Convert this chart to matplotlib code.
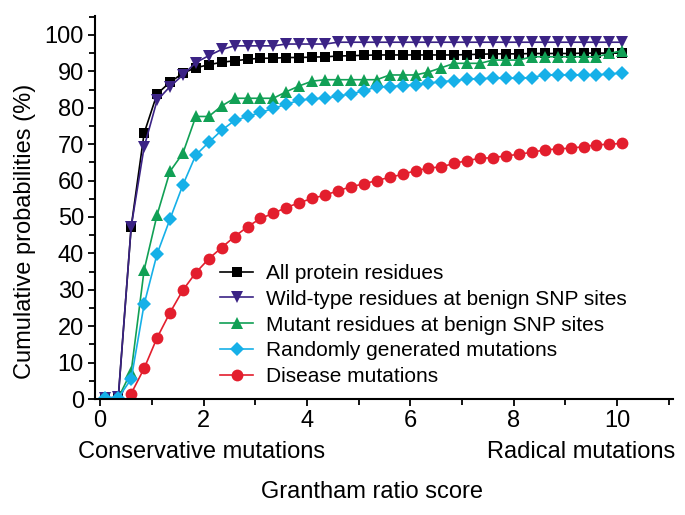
import numpy as np
import matplotlib
matplotlib.use("Agg")
import matplotlib.pyplot as plt
from matplotlib import font_manager
from matplotlib.ticker import MultipleLocator

# Grantham ratio score (x) and cumulative probabilities (%) per series
score = [0.1, 0.35, 0.6, 0.85, 1.1, 1.35, 1.6, 1.85, 2.1, 2.35,
         2.6, 2.85, 3.1, 3.35, 3.6, 3.85, 4.1, 4.35, 4.6, 4.85,
         5.1, 5.35, 5.6, 5.85, 6.1, 6.35, 6.6, 6.85, 7.1, 7.35,
         7.6, 7.85, 8.1, 8.35, 8.6, 8.85, 9.1, 9.35, 9.6, 9.85, 10.1]

all_residues = [0.3, 0.3, 47.3, 73.0, 83.8, 87.0, 89.5, 91.0, 91.8, 92.5,
                92.9, 93.3, 93.6, 93.6, 93.8, 93.8, 93.9, 94.0, 94.2, 94.3,
                94.4, 94.5, 94.5, 94.5, 94.5, 94.5, 94.5, 94.5, 94.6, 94.7,
                94.8, 94.8, 94.8, 94.9, 94.9, 94.9, 94.9, 95.0, 95.0, 95.0, 95.0]

wild_type = [0.3, 0.5, 47.3, 69.2, 82.0, 85.8, 89.0, 92.4, 94.3, 96.0,
             97.0, 97.0, 97.0, 97.0, 97.5, 97.5, 97.5, 97.5, 98.0, 98.0,
             98.0, 98.0, 98.0, 98.0, 98.0, 98.0, 98.0, 98.0, 98.0, 98.0,
             98.0, 98.0, 98.0, 98.0, 98.0, 98.0, 98.0, 98.0, 98.0, 98.0, 98.0]

mutant = [0.3, 0.3, 7.5, 35.4, 50.5, 62.5, 67.5, 77.6, 77.6, 80.5,
          82.6, 82.6, 82.6, 82.6, 84.4, 86.0, 87.3, 87.7, 87.7, 87.7,
          87.7, 87.7, 89.0, 89.0, 89.0, 89.8, 91.0, 92.2, 92.2, 92.2,
          93.1, 93.1, 93.1, 94.0, 94.0, 94.0, 94.0, 94.0, 94.0, 94.9, 95.7]

random_mut = [0.3, 0.3, 5.5, 26.0, 39.8, 49.4, 58.8, 67.0, 70.5, 73.8,
              76.5, 77.6, 78.7, 79.8, 81.0, 82.0, 82.5, 82.6, 83.2, 83.8,
              84.6, 85.8, 85.8, 86.1, 86.3, 86.7, 87.2, 87.4, 87.9, 88.0,
              88.1, 88.1, 88.1, 88.3, 89.0, 89.0, 89.0, 89.0, 89.0, 89.3, 89.5]

disease = [np.nan, np.nan, 1.5, 8.4, 16.8, 23.7, 29.9, 34.7, 38.5, 41.6,
           44.6, 47.3, 49.6, 51.0, 52.6, 53.9, 55.1, 56.0, 57.2, 58.3,
           59.1, 60.0, 60.9, 61.7, 62.7, 63.4, 63.8, 64.7, 65.5, 66.1,
           66.3, 66.8, 67.2, 67.8, 68.4, 68.7, 68.9, 69.3, 69.8, 70.0, 70.2]

labels = ["All protein residues",
          "Wild-type residues at benign SNP sites",
          "Mutant residues at benign SNP sites",
          "Randomly generated mutations",
          "Disease mutations"]

names = {f.name for f in font_manager.fontManager.ttflist}
if "Liberation Sans Narrow" in names:
    narrow = "Liberation Sans Narrow"
    big = 20
else:
    narrow = "Liberation Sans"
    big = 17

plt.rcParams["font.family"] = ["Liberation Sans", "DejaVu Sans"]

fig = plt.figure(figsize=(6.85, 5.15), dpi=100)
ax = fig.add_axes([95/685, 116/515, 578/685, 383/515])

series = [all_residues, wild_type, mutant, random_mut, disease]
colors = ["#000000", "#3b2385", "#11a055", "#16b0e8", "#e31e2d"]
markers = ["s", "v", "^", "D", "o"]
sizes = [7, 9, 9, 7.5, 8.5]

for vals, c, m, ms, lab in zip(series, colors, markers, sizes, labels):
    ax.plot(score, vals, color=c, marker=m, markersize=ms, lw=1.2,
            markeredgewidth=0, label=lab)

ax.set_xlim(-0.1, 11.08)
ax.set_ylim(0, 105.2)
ax.xaxis.set_major_locator(MultipleLocator(2))
ax.xaxis.set_minor_locator(MultipleLocator(1))
ax.yaxis.set_major_locator(MultipleLocator(10))
ax.yaxis.set_minor_locator(MultipleLocator(5))
ax.spines["top"].set_visible(False)
ax.spines["right"].set_visible(False)
ax.spines["left"].set_linewidth(1.5)
ax.spines["bottom"].set_linewidth(1.5)
ax.tick_params(which="major", direction="out", length=5, width=1.3, pad=3,
               labelsize=big)
ax.tick_params(which="minor", direction="out", length=4, width=1.3)
for t in ax.get_xticklabels() + ax.get_yticklabels():
    t.set_fontfamily(narrow)

leg = ax.legend(loc="lower left", bbox_to_anchor=(0.216, 0.033), frameon=False,
                fontsize=15, handlelength=1.6, handletextpad=0.6,
                labelspacing=0.33, borderpad=0, borderaxespad=0)

fig.text(78/685, 1 - 452/515, "Conservative mutations", ha="left", va="center",
         fontsize=big, family=narrow)
fig.text(675/685, 1 - 452/515, "Radical mutations", ha="right", va="center",
         fontsize=big, family=narrow)
fig.text(372/685, 1 - 492/515, "Grantham ratio score", ha="center", va="center",
         fontsize=big, family=narrow)
fig.text(25/685, 1 - 231/515, "Cumulative probabilities (%)", ha="center",
         va="center", rotation=90, fontsize=big, family=narrow)

fig.savefig("out.png", dpi=100)
